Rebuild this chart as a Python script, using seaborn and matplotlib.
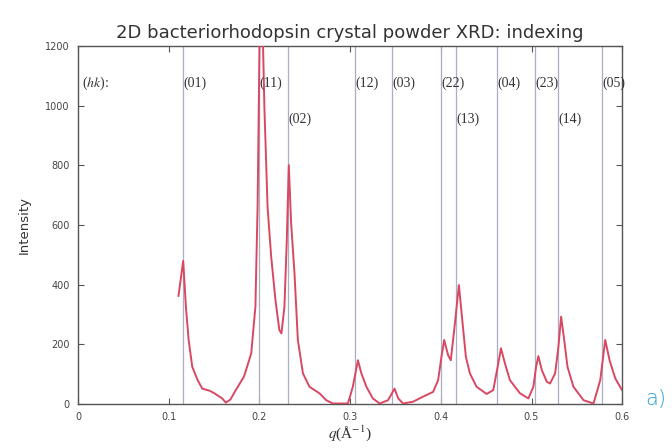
import matplotlib
matplotlib.use("Agg")
import matplotlib.pyplot as plt
import seaborn as sns
import pandas as pd

# ---- data ----
q_vals = [0.1108, 0.1160, 0.1190, 0.1220, 0.1260, 0.1320, 0.1370, 0.1450, 0.1500,
          0.1590, 0.1630, 0.1680, 0.1740, 0.1830, 0.1910, 0.1956, 0.1980, 0.2015,
          0.2055, 0.2090, 0.2130, 0.2177, 0.2220, 0.2243, 0.2276, 0.2302, 0.2324,
          0.2350, 0.2387, 0.2424, 0.2480, 0.2552, 0.2663, 0.2737, 0.2810, 0.2976,
          0.3030, 0.3086, 0.3124, 0.3180, 0.3250, 0.3326, 0.3418, 0.3490, 0.3530,
          0.3584, 0.3694, 0.3805, 0.3915, 0.3970, 0.4007, 0.4037, 0.4080, 0.4110,
          0.4155, 0.4199, 0.4240, 0.4276, 0.4320, 0.4394, 0.4505, 0.4578, 0.4633,
          0.4663, 0.4707, 0.4762, 0.4873, 0.4965, 0.5020, 0.5050, 0.5075, 0.5113,
          0.5168, 0.5204, 0.5260, 0.5296, 0.5326, 0.5360, 0.5396, 0.5462, 0.5573,
          0.5683, 0.5757, 0.5812, 0.5860, 0.5923, 0.5997]
intensity = [362, 480, 326, 215, 125, 80, 52, 45, 37,
             19, 5, 15, 47, 92, 170, 326, 661, 1550,
             997, 661, 494, 349, 248, 237, 326, 550, 801,
             606, 438, 215, 103, 58, 36, 13, 2, 2,
             58, 147, 103, 58, 19, 2, 13, 52, 19,
             2, 8, 25, 41, 80, 159, 215, 164, 147,
             270, 399, 270, 159, 103, 58, 34, 47, 136,
             187, 136, 80, 36, 19, 58, 125, 161, 114,
             75, 69, 103, 192, 293, 215, 125, 58, 13,
             2, 80, 215, 147, 86, 47]

index_labels = ["(01)", "(11)", "(02)", "(12)", "(03)", "(22)", "(13)",
                "(04)", "(23)", "(14)", "(05)"]
index_q = [0.1155, 0.2000, 0.2310, 0.3055, 0.3465, 0.4000, 0.4163,
           0.4620, 0.5035, 0.5290, 0.5774]
index_row = [0, 0, 1, 0, 0, 0, 1, 0, 0, 1, 0]

x_ticks = [0, 0.1, 0.2, 0.3, 0.4, 0.5, 0.6]
y_ticks = [0, 200, 400, 600, 800, 1000, 1200]

df = pd.DataFrame({"q": q_vals, "I": intensity})

sns.set_theme(style="ticks")
plt.rcParams["mathtext.fontset"] = "stix"

fig = plt.figure(figsize=(6.72, 4.48), dpi=100)
ax = fig.add_axes([0.116, 0.098, 0.81, 0.799])

for xq in index_q:
    ax.axvline(xq, color="#a8aec4", lw=0.9, zorder=1)

sns.lineplot(data=df, x="q", y="I", ax=ax, color="#d94862", lw=1.4,
             zorder=3, legend=False)

row_y = [1075, 955]
for lab, xq, r in zip(index_labels, index_q, index_row):
    ax.text(xq + 0.0005, row_y[r], lab, family="Liberation Serif",
            fontsize=10, color="#333333", va="center", ha="left", zorder=4)
ax.text(0.004, 1075, "($hk$):", family="Liberation Serif", fontsize=10,
        color="#333333", va="center", ha="left")

ax.set_xlim(0, 0.6)
ax.set_ylim(0, 1200)
ax.set_xticks(x_ticks)
ax.set_yticks(y_ticks)
ax.set_xticklabels([("%g" % t) for t in x_ticks])
ax.tick_params(direction="in", length=4, width=0.8, colors="#555555",
               labelsize=7, labelcolor="#444444", top=True, right=True,
               labeltop=False, labelright=False, pad=6)

for s in ax.spines.values():
    s.set_color("#555555")
    s.set_linewidth(1.0)

ax.set_xlabel("$q$(Å$^{-1}$)", family="Liberation Serif", fontsize=11,
              color="#333333", labelpad=1)
ax.set_ylabel("Intensity", fontsize=9.5, color="#333333", labelpad=10)
ax.set_title("2D bacteriorhodopsin crystal powder XRD: indexing",
             fontsize=13, color="#333333", pad=6)

fig.text(0.976, 0.11, "a)", color="#2aa0d8", fontsize=15,
         fontweight="light", ha="center", va="center")

fig.savefig("out.png", dpi=100, facecolor="white")
